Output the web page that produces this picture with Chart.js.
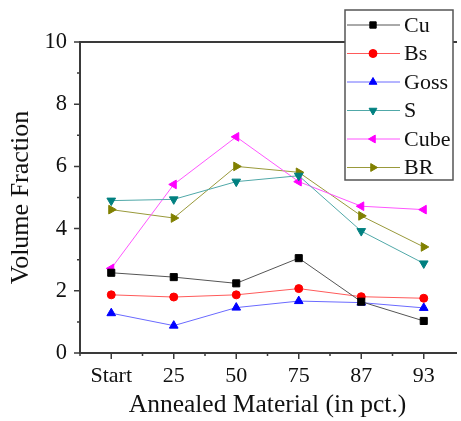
<!DOCTYPE html>
<html lang="en">
<head>
<meta charset="UTF-8">
<title>Volume Fraction</title>
<script src="https://cdn.jsdelivr.net/npm/chart.js"></script>
<style>
  html, body { margin: 0; padding: 0; background: #fff; overflow: hidden; }
  #wrap { width: 461px; height: 421px; }
</style>
</head>
<body>
<div id="wrap"><canvas id="chart" width="461" height="421"></canvas></div>
<script>
// data
const categories = ['Start', '25', '50', '75', '87', '93'];
const cu   = [2.58, 2.44, 2.24, 3.05, 1.65, 1.03];
const bs   = [1.87, 1.80, 1.87, 2.07, 1.81, 1.76];
const goss = [1.28, 0.88, 1.46, 1.67, 1.62, 1.45];
const s    = [4.90, 4.94, 5.51, 5.70, 3.92, 2.88];
const cube = [2.72, 5.42, 6.95, 5.51, 4.72, 4.61];
const br   = [4.61, 4.34, 6.00, 5.81, 4.41, 3.41];
const yTicks = [0, 2, 4, 6, 8, 10];

const FONT = '"Liberation Serif", "DejaVu Serif", serif';
const AXIS = '#3a3a3a';

function series(label, data, line, fill, style, rot) {
    return {
        label: label,
        data: data,
        borderColor: line,
        backgroundColor: fill,
        pointBorderColor: fill,
        pointBackgroundColor: fill,
        borderWidth: 1,
        pointStyle: style,
        rotation: rot || 0,
        pointRadius: style === 'circle' ? 4 : 5,
        tension: 0
    };
}

const datasets = [
    series('Cu', cu, '#555555', '#000000', 'rect'),
    series('Bs', bs, '#ff5a5a', '#ff0000', 'circle'),
    series('Goss', goss, '#6a6aff', '#0000ff', 'triangle'),
    series('S', s, '#50a8a8', '#008080', 'triangle', 180),
    series('Cube', cube, '#ff55ff', '#ff00ff', 'triangle', 270),
    series('BR', br, '#99993a', '#808000', 'triangle', 90)
];

// frame, minor ticks and the boxed legend
const framePlugin = {
    id: 'frame',
    afterDraw(chart) {
        const ctx = chart.ctx;
        const a = chart.chartArea;
        const x = chart.scales.x, y = chart.scales.y;
        ctx.save();
        ctx.strokeStyle = AXIS;
        ctx.lineWidth = 2;
        ctx.beginPath();
        ctx.moveTo(a.left, a.top); ctx.lineTo(a.right + 2, a.top);
        ctx.moveTo(a.left, a.top - 1); ctx.lineTo(a.left, a.bottom);
        ctx.lineTo(a.right + 2, a.bottom);
        ctx.stroke();

        ctx.lineWidth = 1.5;
        ctx.beginPath();
        for (let v = 0; v <= 10; v++) {
            const py = y.getPixelForValue(v);
            const len = v % 2 === 0 ? 6 : 3;
            ctx.moveTo(a.left - len, py); ctx.lineTo(a.left, py);
        }
        for (let i = 0; i < categories.length; i++) {
            const px = x.getPixelForValue(i);
            ctx.moveTo(px, a.bottom); ctx.lineTo(px, a.bottom + 6);
            const hx = px - (x.getPixelForValue(1) - x.getPixelForValue(0)) / 2;
            ctx.moveTo(hx, a.bottom); ctx.lineTo(hx, a.bottom + 3);
        }
        ctx.stroke();

        // legend box
        const bx = 345, by = 10, bw = 108, bh = 170;
        ctx.fillStyle = '#fff';
        ctx.fillRect(bx, by, bw, bh);
        ctx.strokeStyle = '#555';
        ctx.lineWidth = 1.5;
        ctx.strokeRect(bx, by, bw, bh);
        ctx.font = '22px ' + FONT;
        ctx.textBaseline = 'middle';
        chart.data.datasets.forEach((ds, i) => {
            const ry = 25 + i * 28.5;
            ctx.strokeStyle = ds.borderColor;
            ctx.lineWidth = 1;
            ctx.beginPath();
            ctx.moveTo(bx + 2, ry); ctx.lineTo(bx + 55, ry);
            ctx.stroke();
            ctx.fillStyle = ds.pointBackgroundColor;
            ctx.strokeStyle = ds.pointBorderColor;
            Chart.helpers.drawPoint(ctx, {
                pointStyle: ds.pointStyle, rotation: ds.rotation,
                radius: ds.pointStyle === 'circle' ? 4 : 4.5, borderWidth: 1
            }, bx + 28, ry);
            ctx.fillStyle = '#111';
            ctx.fillText(ds.label, bx + 59, ry + 1);
        });
        ctx.restore();
    }
};

new Chart(document.getElementById('chart'), {
    type: 'line',
    data: { labels: categories, datasets: datasets },
    options: {
        responsive: false,
        animation: false,
        layout: { padding: { top: 42, right: 0, left: 6, bottom: 0 } },
        plugins: { legend: { display: false }, tooltip: { enabled: false } },
        scales: {
            x: {
                type: 'category',
                offset: true,
                grid: { display: false, drawTicks: false },
                border: { display: false },
                ticks: { color: '#111', font: { family: FONT, size: 22 }, padding: 10, maxRotation: 0 },
                title: { display: true, text: 'Annealed Material (in pct.)', color: '#111', font: { family: FONT, size: 25.5 }, padding: { top: 0, bottom: 0 } },
                afterFit(scale) { scale.height = 68; }
            },
            y: {
                min: 0, max: 10,
                afterBuildTicks(scale) { scale.ticks = yTicks.map(v => ({ value: v })); },
                grid: { display: false, drawTicks: false },
                border: { display: false },
                ticks: { color: '#111', font: { family: FONT, size: 22.5 }, padding: 13 },
                title: { display: true, text: 'Volume Fraction', color: '#111', font: { family: FONT, size: 26 }, padding: { top: 0, bottom: 2 } },
                afterFit(scale) { scale.width = 74; }
            }
        }
    },
    plugins: [framePlugin]
});
</script>
</body>
</html>
